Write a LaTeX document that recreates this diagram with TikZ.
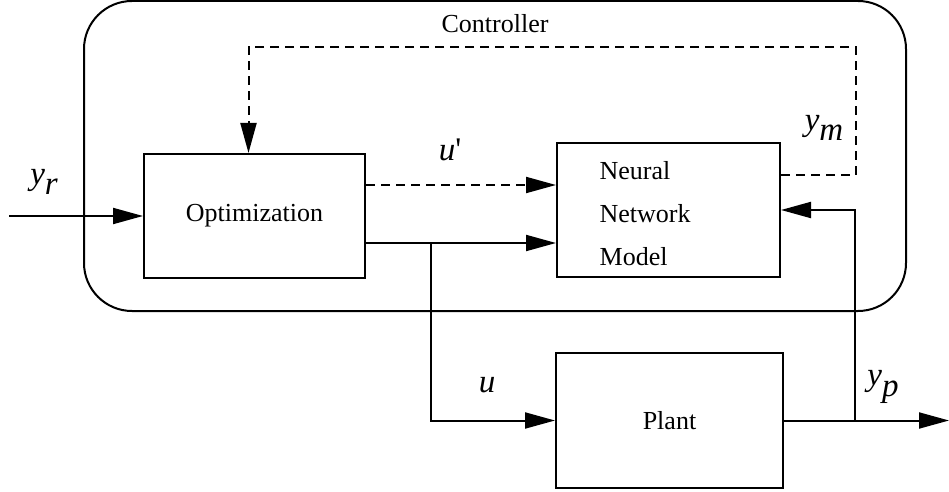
\documentclass[tikz,border=0pt]{standalone}
\usepackage{fontspec}
\setmainfont{Liberation Serif}
\usepackage{tikz}
\usetikzlibrary{arrows.meta,calc}
\newcommand{\sig}[2]{{\itshape #1}\raisebox{-0.7ex}{\itshape #2}}

\begin{document}
\begin{tikzpicture}[x=0.5pt, y=-0.5pt, font=\fontsize{13}{16}\selectfont, line width=1pt,
  blk/.style={draw, line width=1pt},
  lbl/.style={font=\fontsize{16.5}{19}\selectfont},
  arr/.style={-{Triangle[length=15pt,width=8pt]}},
  dsh/.style={dash pattern=on 4.5pt off 3pt}]
  \useasboundingbox (0,0) rectangle (949,492);
  \node[blk, rounded corners=24pt, minimum width=411pt, minimum height=155pt] (ctrl) at (495,156) {};
  \node at (495,24) {Controller};
  \node[blk, minimum width=110.5pt, minimum height=62pt] (opt) at (254.5,216) {Optimization};
  \node[blk, minimum width=111.5pt, minimum height=67pt] (nn) at (668.5,210) {};
  \node[align=left, anchor=west] at (592,214) {Neural\\[5.5pt]Network\\[5.5pt]Model};
  \node[blk, minimum width=113.5pt, minimum height=67.5pt] (plant) at (669.5,420.5) {Plant};
  % signals
  \coordinate (yrin) at (9,216);
  \draw[arr] (yrin) -- (opt.west);
  \node[lbl] at (44,182) {\sig{y}{r}};
  \coordinate (uq) at ([yshift=15.5pt]opt.east);
  \draw[arr, dsh] (uq) -- (uq -| nn.west);
  \node[lbl] at (450,150) {{\itshape u}\textquotesingle};
  \coordinate (us) at ([yshift=-13.5pt]opt.east);
  \draw[arr] (us) -- (us -| nn.west);
  \coordinate (br) at (431,243);
  \draw[arr] (br) |- (plant.west);
  \node[lbl] at (487,385) {\itshape u};
  \coordinate (yout) at (949,420.5);
  \draw[arr] (plant.east) -- (yout);
  \coordinate (bp) at (855,420.5);
  \draw[arr] (bp) |- (nn.east);
  \node[lbl] at (883,387) {\sig{y}{p}};
  % feedback from model
  \coordinate (ym) at ([yshift=17.5pt]nn.east);
  \coordinate (fbtop) at (856,47);
  \draw[arr, dsh] (ym) -| (fbtop) -| ([xshift=-3pt]opt.north);
  \node[lbl] at (824,128) {\sig{y}{m}};
\end{tikzpicture}
\end{document}
